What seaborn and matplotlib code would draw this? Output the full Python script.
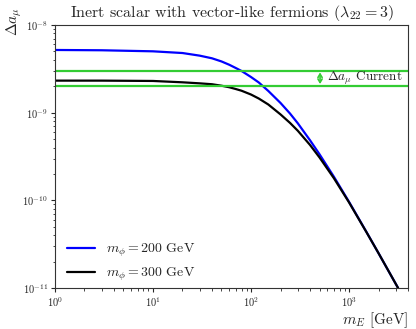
import numpy as np
import pandas as pd
import matplotlib
matplotlib.use("Agg")
import matplotlib.pyplot as plt
import seaborn as sns

# values
m_E = [1, 3, 10, 20, 30, 40, 50, 60, 70, 80, 100, 120, 150, 200, 250, 300,
       400, 500, 700, 1000, 1500, 2000, 3162]
da_200 = [5.19e-9, 5.15e-9, 5.01e-9, 4.79e-9, 4.47e-9, 4.17e-9, 3.84e-9, 3.52e-9,
          3.23e-9, 2.99e-9, 2.55e-9, 2.21e-9, 1.77e-9, 1.29e-9, 9.77e-10, 7.57e-10,
          4.84e-10, 3.35e-10, 1.86e-10, 9.6e-11, 4.38e-11, 2.49e-11, 1.0e-11]
da_300 = [2.32e-9, 2.32e-9, 2.30e-9, 2.22e-9, 2.16e-9, 2.11e-9, 2.03e-9, 1.95e-9,
          1.86e-9, 1.78e-9, 1.61e-9, 1.45e-9, 1.24e-9, 9.55e-10, 7.64e-10, 6.22e-10,
          4.28e-10, 3.08e-10, 1.79e-10, 9.46e-11, 4.36e-11, 2.49e-11, 1.0e-11]
band = [2.03e-9, 3.01e-9]
labels = [r"$m_\phi = 200$ GeV", r"$m_\phi = 300$ GeV"]

df = pd.DataFrame({
    "mE": m_E * 2,
    "da": da_200 + da_300,
    "case": [labels[0]] * len(m_E) + [labels[1]] * len(m_E),
})

sns.set_style("ticks")
plt.rcParams["font.family"] = "serif"
plt.rcParams["font.serif"] = ["cmr10", "DejaVu Serif"]
plt.rcParams["mathtext.fontset"] = "cm"
plt.rcParams["axes.formatter.use_mathtext"] = True
plt.rcParams["axes.edgecolor"] = "#333333"

fig = plt.figure(figsize=(4.16, 3.29), dpi=100)
ax = fig.add_axes([0.132, 0.1246, 0.849, 0.7994])

sns.lineplot(data=df, x="mE", y="da", hue="case", palette=["#0000ff", "black"],
             linewidth=1.6, ax=ax, sort=True)

for b in band:
    ax.axhline(b, color="#33cc33", linewidth=1.6)

ax.annotate("", xy=(506, 2.88e-9), xytext=(506, 2.12e-9),
            arrowprops=dict(arrowstyle="<->,head_length=0.25,head_width=0.15",
                            color="#33cc33", lw=1.2, shrinkA=0, shrinkB=0))
ax.text(600, 2.47e-9, r"$\Delta a_\mu$ Current", fontsize=9.5, va="center", ha="left")

ax.set_xscale("log")
ax.set_yscale("log")
ax.set_xlim(1, 4000)
ax.set_ylim(1e-11, 1e-8)
ax.tick_params(labelsize=7.5, direction="out", length=3, pad=2)
ax.tick_params(which="minor", length=1.8)
ax.set_xlabel(r"$m_E$ [GeV]", fontsize=11, loc="right", labelpad=1)
ax.yaxis.label.set_visible(False)
fig.text(0.034, 0.936, r"$\Delta a_\mu$", fontsize=11, rotation=90,
         ha="center", va="center")
ax.set_title(r"Inert scalar with vector-like fermions ($\lambda_{22} = 3$)", fontsize=11.5)

ax.legend(loc="lower left", frameon=False, fontsize=10, handlelength=2.0,
          bbox_to_anchor=(0.0, -0.03))

fig.savefig("out.png", dpi=100)
